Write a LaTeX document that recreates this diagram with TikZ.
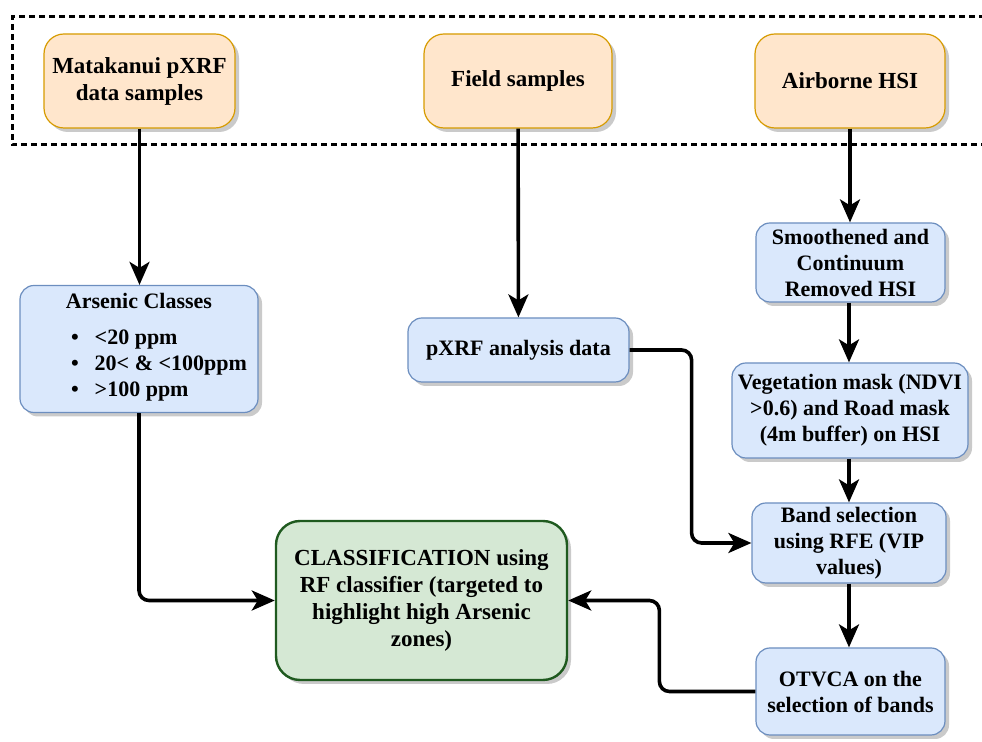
\documentclass[tikz,border=0pt]{standalone}
\usepackage{fontspec}
\setmainfont{Liberation Serif}[BoldFont = {Liberation Serif Bold}]
\usepackage{tikz}
\usetikzlibrary{positioning, calc, shapes, arrows.meta, shadows}

\definecolor{srcfill}{HTML}{FFE6CC}
\definecolor{srcline}{HTML}{D79B00}
\definecolor{procfill}{HTML}{DAE8FC}
\definecolor{procline}{HTML}{6C8EBF}
\definecolor{classfill}{HTML}{D5E8D4}
\definecolor{classline}{HTML}{1F5A1F}

\tikzset{
	boxshadow/.style = {drop shadow = {shadow xshift = 2pt, shadow yshift = -2pt, fill = black!35, opacity = 0.6}},
	srcbox/.style = {draw = srcline, fill = srcfill, line width = 0.6pt, rounded corners = 10pt, boxshadow, align = center, font = \fontsize{11.5}{13.5}\selectfont\bfseries, inner sep = 2pt},
	procbox/.style = {draw = procline, fill = procfill, line width = 0.6pt, rounded corners = 7pt, boxshadow, align = center, font = \fontsize{11}{13}\selectfont\bfseries, inner sep = 2pt},
	classbox/.style = {draw = classline, fill = classfill, line width = 1.2pt, rounded corners = 12pt, boxshadow, align = center, font = \fontsize{11.5}{13.5}\selectfont\bfseries, inner sep = 2pt},
	flow/.style = {line width = 1.8pt, rounded corners = 5pt, -{Stealth[length = 11.5pt, width = 10pt, inset = 3pt]}}
}

\begin{document}
\begin{tikzpicture}[x = 0.5pt, y = -0.5pt]
	\useasboundingbox (0,0) rectangle (982,742);

	% input frame
	\draw[line width = 1.5pt, dash pattern = on 3pt off 2pt] (995,17) -- (12,17) -- (12,145) -- (995,145);

	% data sources
	\node[srcbox, minimum width = 95.5pt, minimum height = 47pt] (matakanui) at (139.5,81) {Matakanui pXRF\\data samples};
	\node[srcbox, minimum width = 94pt, minimum height = 47pt] (field) at (518,81) {Field samples};
	\node[srcbox, minimum width = 95pt, minimum height = 47pt] (airborne) at (850,81) {Airborne HSI};

	% processing
	\node[procbox, minimum width = 119pt, minimum height = 63.5pt] (arsenic) at (139,349) {Arsenic Classes\\[8pt]
		\hspace*{20pt}\begin{tabular}{@{}l@{\hspace{8pt}}l@{}}
			\textbullet & <20 ppm \\
			\textbullet & 20< \& <100ppm \\
			\textbullet & >100 ppm
		\end{tabular}};
	\node[procbox, minimum width = 110.5pt, minimum height = 32pt] (pxrf) at (518.5,350) {pXRF analysis data};
	\node[procbox, minimum width = 94.5pt, minimum height = 39.5pt] (smooth) at (850.5,262.5) {Smoothened and\\Continuum\\Removed HSI};
	\node[procbox, minimum width = 118pt, minimum height = 47.5pt] (mask) at (850,410.5) {Vegetation mask (NDVI\\>0.6) and Road mask\\(4m buffer) on HSI};
	\node[procbox, minimum width = 97pt, minimum height = 40pt] (bands) at (849,543) {Band selection\\using RFE (VIP\\values)};
	\node[procbox, minimum width = 94.5pt, minimum height = 43.5pt] (otvca) at (850.5,691.5) {OTVCA on the\\selection of bands};

	% result
	\node[classbox, minimum width = 145.5pt, minimum height = 79.5pt] (classify) at (421.5,600.5) {CLASSIFICATION using\\RF classifier (targeted to\\highlight high Arsenic\\zones)};

	% connectors
	\draw[flow] (matakanui.south) -- (matakanui.south |- arsenic.north);
	\draw[flow] (field) -- (pxrf);
	\draw[flow] (airborne.south) -- (airborne.south |- smooth.north);
	\draw[flow] (bands.north |- smooth.south) -- (bands.north |- mask.north);
	\draw[flow] (bands.north |- mask.south) -- (bands.north);
	\draw[flow] (bands.south) -- (bands.south |- otvca.north);
	\draw[flow] (arsenic.south) |- (classify.west);
	\draw[flow] (pxrf.east) -- ++(62,0) |- (bands.west);
	\draw[flow] (otvca.west) -- ++(-96,0) |- (classify.east);
\end{tikzpicture}
\end{document}
